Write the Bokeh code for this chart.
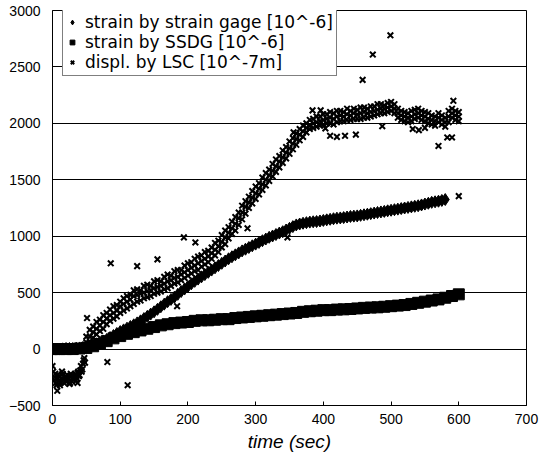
from bokeh.plotting import figure
from bokeh.models import Legend, LegendItem, FixedTicker, Range1d
from bokeh.embed import file_html
from bokeh.resources import INLINE

# ---- strain by strain gage [10^-6], every 5 s from 0 to 580 s
gage_t = list(range(0, 585, 5))
gage_v = [0, 0, 0, 2, 5, 5, 5, 8, 10, 15,
          20, 27, 35, 47, 60, 72, 85, 102, 120, 138,
          155, 170, 185, 200, 215, 232, 250, 270, 290, 310,
          330, 352, 375, 398, 420, 440, 460, 485, 510, 532,
          555, 578, 600, 620, 640, 660, 680, 700, 720, 740,
          760, 780, 800, 818, 835, 852, 870, 885, 900, 915,
          930, 945, 960, 975, 990, 1002, 1015, 1028, 1040, 1055,
          1070, 1085, 1100, 1108, 1115, 1120, 1125, 1128, 1130, 1135,
          1140, 1145, 1150, 1155, 1160, 1162, 1165, 1170, 1175, 1178,
          1180, 1185, 1190, 1195, 1200, 1205, 1210, 1215, 1220, 1225,
          1230, 1235, 1240, 1245, 1250, 1255, 1260, 1265, 1270, 1277,
          1285, 1292, 1300, 1305, 1310, 1317,
          1325]

# ---- strain by SSDG [10^-6], every 10 s from 0 to 600 s
ssdg_t = list(range(0, 610, 10))
ssdg_v = [0, 0, 0, 0, 5, 10, 25, 45, 70, 95,
          115, 135, 150, 165, 180, 195, 210, 220, 230, 235,
          240, 250, 255, 255, 260, 265, 265, 275, 280, 285,
          290, 295, 300, 305, 310, 315, 320, 330, 335, 340,
          345, 345, 350, 352, 355, 360, 365, 368, 370, 375,
          380, 385, 390, 400, 410, 420, 430, 440, 455, 470,
          485]

# ---- displ. by LSC [10^-7 m]
# early readings (0-49 s)
lsc_early_t = [0, 2, 4, 6, 8, 10, 12, 14, 16, 18, 20, 22, 24, 26, 28, 30, 32, 34, 36, 38, 40, 42, 44, 46, 48,
               1, 3, 5, 7, 9, 11, 13, 15, 17, 19, 21, 23, 25, 27, 29, 31, 33, 35, 37, 39, 41, 43, 45, 47]
lsc_early_v = [-150, -280, -220, -320, -260, -240, -300, -200, -270, -250, -290, -230, -260, -300, -240,
               -270, -250, -220, -260, -200, -230, -150, -180, -100, -120,
               -200, -250, -300, -230, -280, -320, -260, -220, -300, -240, -280, -260, -310, -220, -290,
               -250, -230, -280, -210, -240, -190, -200, -130, -80]
# main band, every 5 s from 50 to 600 s: upper, middle and lower readings
lsc_t = list(range(50, 605, 5))
lsc_hi = [110, 170, 200, 240, 260, 300, 320, 350, 380, 390,
          420, 450, 470, 480, 520, 530, 520, 560, 570, 560,
          600, 610, 600, 640, 660, 650, 690, 700, 700, 740,
          760, 770, 800, 820, 830, 860, 870, 900, 940, 960,
          1010, 1050, 1080, 1130, 1170, 1210, 1270, 1310, 1350, 1400,
          1440, 1470, 1520, 1560, 1590, 1640, 1680, 1710, 1760, 1790,
          1840, 1870, 1910, 1950, 1980, 2000, 2030, 2040, 2060, 2060,
          2080, 2080, 2100, 2090, 2110, 2110, 2100, 2130, 2110, 2130,
          2120, 2140, 2140, 2130, 2150, 2150, 2170, 2170, 2160, 2180,
          2190, 2170, 2130, 2110, 2100, 2090, 2110, 2120, 2130, 2110,
          2100, 2090, 2070, 2060, 2090, 2070, 2050, 2110, 2130, 2110,
          2100]
lsc_mid = [60, 110, 150, 180, 210, 240, 270, 300, 320, 340,
           380, 400, 420, 440, 470, 480, 490, 500, 515, 520,
           540, 550, 560, 580, 600, 610, 630, 640, 660, 680,
           700, 720, 740, 760, 780, 800, 820, 850, 880, 910,
           950, 990, 1030, 1070, 1110, 1160, 1210, 1260, 1300, 1340,
           1380, 1420, 1460, 1500, 1540, 1580, 1620, 1660, 1700, 1740,
           1780, 1820, 1860, 1900, 1930, 1960, 1980, 2000, 2010, 2020,
           2030, 2040, 2050, 2040, 2060, 2070, 2060, 2080, 2070, 2090,
           2080, 2090, 2100, 2090, 2100, 2110, 2120, 2130, 2130, 2140,
           2150, 2130, 2090, 2070, 2060, 2050, 2060, 2080, 2090, 2070,
           2060, 2040, 2030, 2020, 2050, 2030, 2010, 2060, 2090, 2070,
           2060]
lsc_lo = [20, 60, 100, 130, 160, 180, 220, 250, 270, 290,
          320, 340, 360, 380, 400, 420, 430, 450, 460, 470,
          490, 500, 510, 530, 540, 560, 580, 590, 610, 630,
          650, 670, 690, 700, 730, 750, 770, 800, 830, 860,
          900, 930, 980, 1020, 1050, 1100, 1150, 1200, 1250, 1290,
          1330, 1370, 1410, 1450, 1490, 1530, 1570, 1610, 1650, 1690,
          1730, 1770, 1810, 1850, 1880, 1920, 1950, 1960, 1970, 1980,
          1990, 2000, 2000, 1990, 2010, 2020, 2020, 2030, 2030, 2040,
          2040, 2040, 2050, 2050, 2060, 2070, 2080, 2090, 2090, 2100,
          2110, 2090, 2050, 2030, 2020, 2010, 2020, 2040, 2050, 2030,
          2020, 2000, 1990, 1980, 2010, 1990, 1970, 2010, 2050, 2030,
          2020]
# scattered readings
lsc_out_t = [7, 37, 81, 111, 51, 86, 125, 155, 184, 194, 211, 288, 347, 356, 384, 396, 403,
             410, 420, 432, 448, 458, 473, 499, 487, 532, 541, 550, 570, 583, 590, 592, 600]
lsc_out_v = [-370, -300, -115, -320, 275, 760, 735, 795, 380, 990, 945, 1070, 990, 1920, 2115, 2115, 1955,
             1890, 1880, 1890, 1900, 2385, 2610, 2780, 1975, 1950, 1940, 1960, 1800, 1875, 1875, 2200, 1355]

y_ticks = [-500, 0, 500, 1000, 1500, 2000, 2500, 3000]
x_ticks = [0, 100, 200, 300, 400, 500, 600, 700]
labels = ["strain by strain gage [10^-6]", "strain by SSDG [10^-6]", "displ. by LSC [10^-7m]"]

lsc_all_t = lsc_early_t + lsc_t + lsc_t + lsc_t + lsc_out_t
lsc_all_v = lsc_early_v + lsc_hi + lsc_mid + lsc_lo + lsc_out_v

p = figure(width=541, height=461, output_backend="svg", toolbar_location=None,
           x_range=Range1d(0, 700), y_range=Range1d(-500, 3000),
           min_border_left=52, min_border_right=15, min_border_top=10, min_border_bottom=56)
p.background_fill_color = "white"
p.border_fill_color = "white"
p.outline_line_color = "black"
p.outline_line_width = 1

p.xgrid.visible = False
p.ygrid.grid_line_color = "black"
p.ygrid.grid_line_width = 1
p.ygrid.ticker = FixedTicker(ticks=y_ticks)

p.xaxis.ticker = FixedTicker(ticks=x_ticks)
p.yaxis.ticker = FixedTicker(ticks=y_ticks)
for ax in (p.xaxis[0], p.yaxis[0]):
    ax.axis_line_color = "black"
    ax.major_label_text_font = "Liberation Sans"
    ax.major_label_text_font_size = "14px"
    ax.major_label_text_color = "black"
    ax.minor_tick_line_color = None
    ax.major_tick_line_color = "black"
p.xaxis.major_tick_in = 4
p.xaxis.major_tick_out = 0
p.yaxis.major_tick_in = 0
p.yaxis.major_tick_out = 0
p.yaxis.major_label_standoff = 12
p.xaxis.major_label_standoff = 8
p.xaxis.axis_label = "time (sec)"
p.xaxis.axis_label_text_font = "Liberation Sans"
p.xaxis.axis_label_text_font_style = "italic"
p.xaxis.axis_label_text_font_size = "19px"
p.xaxis.axis_label_text_color = "black"
p.xaxis.axis_label_standoff = 4

r_ssdg = p.scatter(x=ssdg_t, y=ssdg_v, marker="square", size=11, color="black")
r_gage = p.scatter(x=gage_t, y=gage_v, marker="diamond", size=12, color="black")
r_lsc = p.scatter(x=lsc_all_t, y=lsc_all_v, marker="x", size=8, line_color="black", line_width=2)

legend = Legend(items=[LegendItem(label=labels[0], renderers=[r_gage]),
                       LegendItem(label=labels[1], renderers=[r_ssdg]),
                       LegendItem(label=labels[2], renderers=[r_lsc])],
                location=(10, 329), label_text_font="DejaVu Sans", label_text_font_size="17px",
                label_text_color="black", label_height=20, glyph_height=16, glyph_width=12,
                spacing=0, padding=3, margin=0, border_line_color="black", border_line_width=1,
                background_fill_alpha=1.0, label_standoff=7)
p.add_layout(legend)

open("out.html", "w").write(file_html(p, INLINE))
